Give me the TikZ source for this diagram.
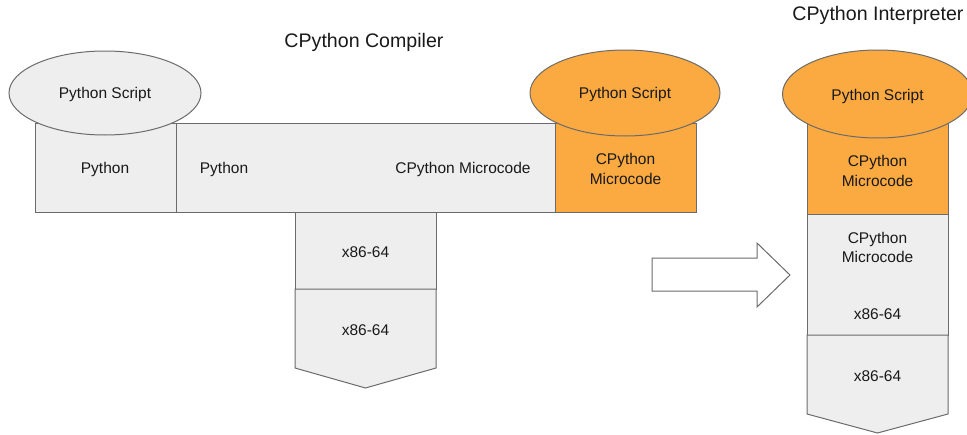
\documentclass[tikz,border=0pt]{standalone}
\usepackage{fontspec}
\setmainfont{Liberation Sans}
\definecolor{edge}{HTML}{6B6B6B}
\definecolor{lightg}{HTML}{EEEEEE}
\definecolor{orng}{HTML}{FBA941}
\begin{document}
\begin{tikzpicture}[x=1pt,y=-1pt,
  box/.style={draw=edge,fill=lightg,line width=1pt,inner sep=0pt,outer sep=0pt},
  obox/.style={box,fill=orng},
  lbl/.style={font=\fontsize{15.5}{19.5}\selectfont,align=center,text=black!90,inner sep=0pt,yshift=-1pt},
  ttl/.style={font=\fontsize{19.6}{22}\selectfont,text=black!90,inner sep=0pt,yshift=-1pt},
]
\useasboundingbox (0,0) rectangle (967,434);
\begin{scope}
\clip (0,0) rectangle (967,434);
% titles
\node[ttl] (t1) at (364,41) {CPython Compiler};
\node[ttl] (t2) at (878,14) {CPython Interpreter};
% compiler row
\node[box,minimum width=141,minimum height=89,anchor=north west] (pybox) at (35,123) {};
\node[box,minimum width=379,minimum height=89,anchor=north west] (midbox) at (176,123) {};
\node[obox,minimum width=141,minimum height=89,anchor=north west] (obox1) at (555,123) {};
\node[box,minimum width=141,minimum height=77,anchor=north west] (x1) at (295,212) {};
\draw[box] (295,289) -- (436,289) -- (436,368) -- (365.5,388) -- (295,368) -- cycle;
% ellipses
\draw[draw=edge,fill=lightg,line width=1pt] (105,93) ellipse [x radius=96,y radius=42];
\draw[draw=edge,fill=orng,line width=1pt] (625,93) ellipse [x radius=95,y radius=43];
% labels
\node[lbl] (e1) at (105,93) {Python Script};
\node[lbl] (e2) at (625,93) {Python Script};
\node[lbl] (p1) at (105,168) {Python};
\node[lbl] (p2) at (224,168) {Python};
\node[lbl] (m1) at (463,168) {CPython Microcode};
\node[lbl] (m2) at (625.5,168) {CPython\\Microcode};
\node[lbl] (x1l) at (365.5,251) {x86-64};
\node[lbl] (x2l) at (365.5,329) {x86-64};
% block arrow
\draw[draw=edge,fill=white,line width=1pt] (652,258) -- (757,258) -- (757,243) -- (790,275) -- (757,307) -- (757,291) -- (652,291) -- cycle;
% interpreter column
\node[obox,minimum width=141,minimum height=91,anchor=north west] (obox2) at (807,123) {};
\node[box,minimum width=141,minimum height=121,anchor=north west] (gbox) at (807,214) {};
\draw[box] (807,335) -- (948,335) -- (948,414) -- (877.5,433) -- (807,414) -- cycle;
\draw[draw=edge,fill=orng,line width=1pt] (877.5,94) ellipse [x radius=95,y radius=44];
\node[lbl] (e3) at (877.5,95) {Python Script};
\node[lbl] (m3) at (877.5,170) {CPython\\Microcode};
\node[lbl] (m4) at (877.5,246.5) {CPython\\Microcode};
\node[lbl] (x3) at (877.5,313) {x86-64};
\node[lbl] (x4) at (877.5,375) {x86-64};
\end{scope}
\end{tikzpicture}
\end{document}
